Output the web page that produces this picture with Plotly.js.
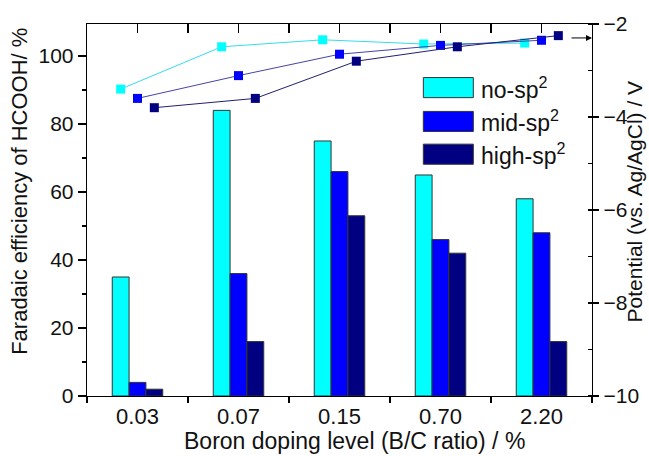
<!DOCTYPE html>
<html>
<head>
<meta charset="utf-8">
<script src="https://cdn.plot.ly/plotly-3.0.1.min.js"></script>
<style>
html,body{margin:0;padding:0;background:#fff;}
#chart{width:649px;height:456px;}
</style>
</head>
<body>
<div id="chart"></div>
<script>
// ---- data ----
const categories = ['0.03', '0.07', '0.15', '0.70', '2.20'];
const seriesNames = ['no-sp<sup>2</sup>', 'mid-sp<sup>2</sup>', 'high-sp<sup>2</sup>'];
const feNo   = [35, 84, 75, 65, 58];
const feMid  = [4, 36, 66, 46, 48];
const feHigh = [2, 16, 53, 42, 16];
const potNo   = [-3.40, -2.49, -2.34, -2.43, -2.41];
const potMid  = [-3.60, -3.11, -2.65, -2.46, -2.35];
const potHigh = [-3.80, -3.60, -2.80, -2.49, -2.25];
const xTitle = 'Boron doping level (B/C ratio) / %';
const yTitle = 'Faradaic efficiency of HCOOH/ %';
const y2Title = 'Potential (vs. Ag/AgCl) / V';

// ---- styles ----
const barColors  = ['#00FFFF', '#0000FF', '#000080'];
const lineColors = ['#33DDEE', '#4444AA', '#202070'];
const FONT = 'Arial, "Liberation Sans", sans-serif';
const idx = categories.map((c, i) => i);
const offsets = [-1/6, 0, 1/6];
const feSeries = [feNo, feMid, feHigh];
const potSeries = [potNo, potMid, potHigh];

const traces = [];
feSeries.forEach((vals, k) => {
  traces.push({
    type: 'bar', x: idx, y: vals, name: seriesNames[k],
    xaxis: 'x', yaxis: 'y',
    marker: {color: barColors[k], line: {color: '#333333', width: 1}},
    showlegend: false
  });
});
potSeries.forEach((vals, k) => {
  traces.push({
    type: 'scatter', mode: 'lines+markers',
    x: idx.map(i => i + offsets[k]), y: vals, name: seriesNames[k],
    xaxis: 'x2', yaxis: 'y2',
    line: {color: lineColors[k], width: 1},
    marker: {symbol: 'square', size: 9, color: barColors[k]},
    showlegend: false, cliponaxis: false
  });
});

// legend drawn as shapes + annotations (paper coords)
const shapes = [];
const annotations = [];
const legX0 = 0.666, legX1 = 0.765, legTop = [0.856, 0.765, 0.677], legH = 0.054;
seriesNames.forEach((n, k) => {
  shapes.push({type: 'rect', xref: 'paper', yref: 'paper',
    x0: legX0, x1: legX1, y0: legTop[k] - legH, y1: legTop[k],
    fillcolor: barColors[k], line: {color: '#333333', width: 1}});
  annotations.push({xref: 'paper', yref: 'paper', x: legX1 + 0.012, y: legTop[k] - legH / 2,
    xanchor: 'left', yanchor: 'middle', text: n, showarrow: false,
    font: {family: FONT, size: 23, color: '#111'}});
});
annotations.push({xref: 'x2', yref: 'y2', x: 4.5, y: -2.3, ax: -25, ay: 0,
  axref: 'pixel', ayref: 'pixel',
  text: ' ', showarrow: true, arrowhead: 2, arrowsize: 1.2, arrowwidth: 1, arrowcolor: '#000'});
// axis titles as annotations
annotations.push({xref: 'paper', yref: 'paper', x: 0.529, y: -0.121, xanchor: 'center', yanchor: 'middle',
  text: xTitle, showarrow: false, font: {family: FONT, size: 23, color: '#111'}});
annotations.push({xref: 'paper', yref: 'paper', x: -0.135, y: 0.551, xanchor: 'center', yanchor: 'middle',
  textangle: -90, text: yTitle, showarrow: false, font: {family: FONT, size: 22, color: '#111'}});
annotations.push({xref: 'paper', yref: 'paper', x: 1.084, y: 0.524, xanchor: 'center', yanchor: 'middle',
  textangle: -90, text: y2Title, showarrow: false, borderpad: 0, font: {family: FONT, size: 21, color: '#111'}});

const boundaries = [-0.5, 0.5, 1.5, 2.5, 3.5, 4.5];
const halfTicks = [-0.5, 0, 0.5, 1, 1.5, 2, 2.5, 3, 3.5, 4, 4.5];

const layout = {
  width: 649, height: 456,
  margin: {l: 87, r: 57, t: 24, b: 60},
  paper_bgcolor: '#fff', plot_bgcolor: '#fff',
  font: {family: FONT, size: 22, color: '#111'},
  barmode: 'group', bargap: 0.5, bargroupgap: 0,
  showlegend: false,
  xaxis: {
    range: [-0.5, 4.5], tickmode: 'array', tickvals: idx, ticktext: categories,
    ticks: '', showgrid: false, zeroline: false,
    showline: true, linecolor: '#000', linewidth: 1.3,
    tickfont: {family: FONT, size: 22, color: '#111'},
    minor: {tickmode: 'array', tickvals: boundaries, ticks: 'outside', ticklen: 6, tickcolor: '#000', tickwidth: 1.2, showgrid: false}
  },
  xaxis2: {
    overlaying: 'x', side: 'top', range: [-0.5, 4.5],
    tickmode: 'array', tickvals: halfTicks, ticks: 'inside', ticklen: 9, tickcolor: '#000', tickwidth: 1.2,
    showticklabels: false, showgrid: false, zeroline: false,
    showline: true, linecolor: '#000', linewidth: 1.3
  },
  yaxis: {
    range: [0, 109.4], tickmode: 'linear', tick0: 0, dtick: 20,
    ticks: 'outside', ticklen: 8, tickcolor: '#000', tickwidth: 1.2,
    minor: {dtick: 10, ticks: 'outside', ticklen: 4, tickcolor: '#000', tickwidth: 1.2, showgrid: false},
    showgrid: false, zeroline: false,
    showline: true, linecolor: '#000', linewidth: 1.3,
    tickfont: {family: FONT, size: 21, color: '#111'}
  },
  yaxis2: {
    overlaying: 'y', side: 'right', range: [-10, -2], tickmode: 'linear', tick0: -10, dtick: 2,
    ticks: 'outside', ticklen: 6, tickcolor: '#000', tickwidth: 1.2,
    minor: {dtick: 1, ticks: 'inside', ticklen: 4, tickcolor: '#000', tickwidth: 1.2, showgrid: false},
    showgrid: false, zeroline: false,
    showline: true, linecolor: '#000', linewidth: 1.3,
    tickfont: {family: FONT, size: 21, color: '#111'}
  },
  shapes: shapes,
  annotations: annotations
};

Plotly.newPlot('chart', traces, layout, {displayModeBar: false, staticPlot: true});
</script>
</body>
</html>
